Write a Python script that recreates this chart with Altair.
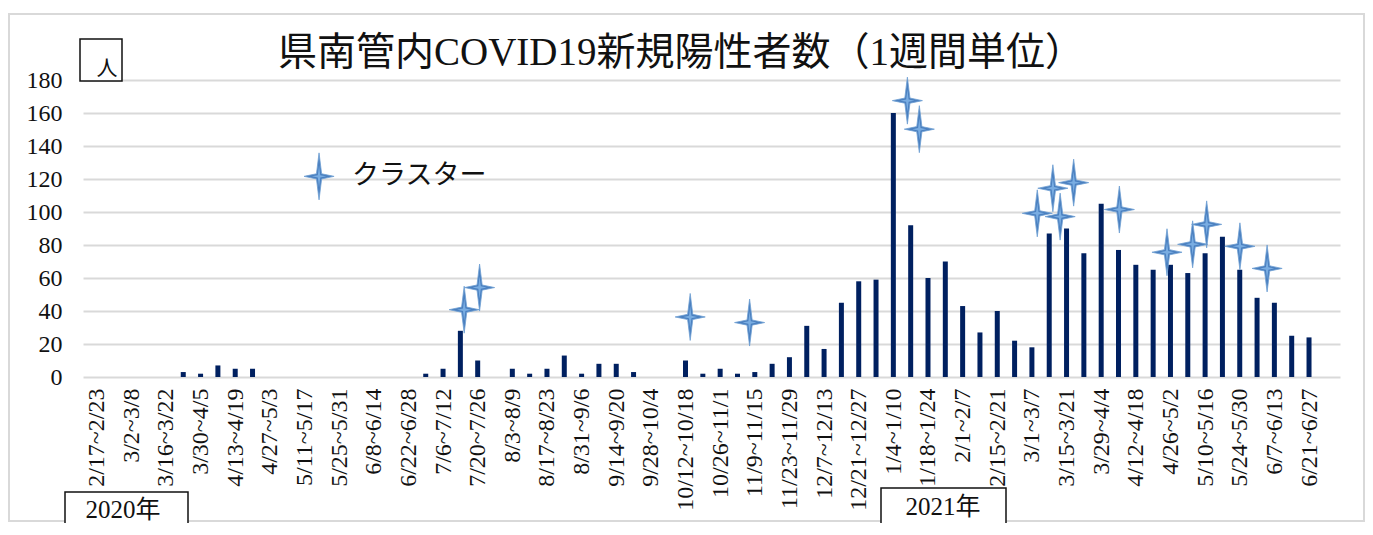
import altair as alt
import pandas as pd

# ---- data -------------------------------------------------------------
week_labels = [
    "2/17~2/23", "2/24~3/1", "3/2~3/8", "3/9~3/15", "3/16~3/22", "3/23~3/29",
    "3/30~4/5", "4/6~4/12", "4/13~4/19", "4/20~4/26", "4/27~5/3", "5/4~5/10",
    "5/11~5/17", "5/18~5/24", "5/25~5/31", "6/1~6/7", "6/8~6/14", "6/15~6/21",
    "6/22~6/28", "6/29~7/5", "7/6~7/12", "7/13~7/19", "7/20~7/26", "7/27~8/2",
    "8/3~8/9", "8/10~8/16", "8/17~8/23", "8/24~8/30", "8/31~9/6", "9/7~9/13",
    "9/14~9/20", "9/21~9/27", "9/28~10/4", "10/5~10/11", "10/12~10/18", "10/19~10/25",
    "10/26~11/1", "11/2~11/8", "11/9~11/15", "11/16~11/22", "11/23~11/29", "11/30~12/6",
    "12/7~12/13", "12/14~12/20", "12/21~12/27", "12/28~1/3", "1/4~1/10", "1/11~1/17",
    "1/18~1/24", "1/25~1/31", "2/1~2/7", "2/8~2/14", "2/15~2/21", "2/22~2/28",
    "3/1~3/7", "3/8~3/14", "3/15~3/21", "3/22~3/28", "3/29~4/4", "4/5~4/11",
    "4/12~4/18", "4/19~4/25", "4/26~5/2", "5/3~5/9", "5/10~5/16", "5/17~5/23",
    "5/24~5/30", "5/31~6/6", "6/7~6/13", "6/14~6/20", "6/21~6/27",
]
cases = [
    0, 0, 0, 0, 0, 3, 2, 7, 5, 5,
    0, 0, 0, 0, 0, 0, 0, 0, 0, 2,
    5, 28, 10, 0, 5, 2, 5, 13, 2, 8,
    8, 3, 0, 0, 10, 2, 5, 2, 3, 8,
    12, 31, 17, 45, 58, 59, 160, 92, 60, 70,
    43, 27, 40, 22, 18, 87, 90, 75, 105, 77,
    68, 65, 68, 63, 75, 85, 65, 48, 45, 25,
    24,
]
# cluster markers (position in week units, height in persons)
star_x = [21.22, 22.11, 34.27, 37.70, 46.81, 47.50, 54.31, 55.21, 55.63, 56.41,
          59.05, 61.80, 63.28, 64.09, 66.01, 67.58]
star_y = [40.8, 54.2, 36.4, 33.0, 167.5, 150.2, 99.2, 114.4, 97.2, 117.8,
          101.5, 75.6, 80.4, 92.5, 79.2, 65.8]
legend_star_x = [12.84]
legend_star_y = [121.6]
legend_text_x = [14.75]
legend_text_y = [121.6]
legend_label = ["クラスター"]
tick_weeks = list(range(0, 71, 2))
y_ticks = list(range(0, 181, 20))

title_text = "県南管内COVID19新規陽性者数（1週間単位）"
unit_text = "人"
year_texts = ["2020年", "2021年"]

# ---- chart ------------------------------------------------------------
W, H = 1257, 297
SERIF = "Liberation Serif, Noto Sans CJK JP"
LAB = "Liberation Serif"
GRID = "#d9d9d9"
LFS = 24

bars_df = pd.DataFrame({"week": list(range(len(cases))), "cases": cases,
                        "label": week_labels})
stars_df = pd.DataFrame({"week": star_x, "cases": star_y})
leg_star_df = pd.DataFrame({"week": legend_star_x, "cases": legend_star_y})
leg_text_df = pd.DataFrame({"week": legend_text_x, "cases": legend_text_y,
                            "t": legend_label})
one = pd.DataFrame({"a": [0]})

label_expr = "[" + ",".join("'" + s + "'" for s in week_labels) + "][datum.value]"

xscale = alt.Scale(domain=[-0.5, 71.5], nice=False, zero=False)
yscale = alt.Scale(domain=[0, 180], nice=False)

xaxis = alt.Axis(values=tick_weeks, labelExpr=label_expr, labelAngle=270,
                 labelFont=LAB, labelFontSize=LFS, labelFontWeight="normal",
                 labelColor="#111", labelPadding=11, ticks=False, domain=False,
                 grid=False, labelOverlap=False, labelFlush=False, title=None)
yaxis = alt.Axis(values=y_ticks, labelFont=LAB, labelFontSize=LFS,
                 labelFontWeight="normal", labelColor="#111", labelPadding=21,
                 ticks=False, domain=False, grid=True, gridColor=GRID,
                 gridWidth=2, labelOverlap=False, title=None)

X = alt.X("week:Q", scale=xscale, axis=xaxis)
Y = alt.Y("cases:Q", scale=yscale, axis=yaxis)

# outer frame (outline only)
frame = alt.Chart(one).mark_rect(fillOpacity=0, stroke=GRID, strokeWidth=2).encode(
    x=alt.value(-74), x2=alt.value(1281), y=alt.value(-66), y2=alt.value(441))

bars = alt.Chart(bars_df).mark_bar(size=5, color="#002060").encode(x=X, y=Y)

STAR = "M0,-1L0.11,-0.11L0.64,0L0.11,0.11L0,1L-0.11,0.11L-0.64,0L-0.11,-0.11Z"

def star_layers(df):
    outer = alt.Chart(df).mark_point(shape=STAR, size=2209, filled=True,
                                     fill="#4a7fbf", stroke="#6f9fd3",
                                     strokeWidth=0.8, opacity=1).encode(x=X, y=Y)
    inner = alt.Chart(df).mark_point(shape=STAR, size=500, filled=True,
                                     fill="#79ade2", opacity=1).encode(x=X, y=Y)
    return [outer, inner]

stars = star_layers(stars_df)
leg_star = star_layers(leg_star_df)
leg_text = alt.Chart(leg_text_df).mark_text(
    font="Noto Sans CJK JP", fontSize=27, align="left", baseline="middle",
    color="#111").encode(x=X, y=Y, text="t:N")

title = alt.Chart(one).mark_text(font=SERIF, fontSize=39, align="center",
                                 baseline="middle", color="#111",
                                 text=title_text).encode(
    x=alt.value(598), y=alt.value(-27))

unit_box = alt.Chart(one).mark_rect(fill="white", stroke="#111", strokeWidth=1.5).encode(
    x=alt.value(-3), x2=alt.value(39), y=alt.value(-41), y2=alt.value(1))
unit_txt = alt.Chart(one).mark_text(font=SERIF, fontSize=21, align="center",
                                    baseline="middle", color="#111",
                                    text=unit_text).encode(
    x=alt.value(24), y=alt.value(-11))

y20_box = alt.Chart(one).mark_rect(fill="white", stroke="#111", strokeWidth=1.5).encode(
    x=alt.value(-18), x2=alt.value(105), y=alt.value(412), y2=alt.value(470))
y20_txt = alt.Chart(one).mark_text(font=SERIF, fontSize=25, align="center",
                                   baseline="middle", color="#111",
                                   text=year_texts[0]).encode(
    x=alt.value(40), y=alt.value(430))
y21_box = alt.Chart(one).mark_rect(fill="white", stroke="#111", strokeWidth=1.5).encode(
    x=alt.value(798), x2=alt.value(923), y=alt.value(408), y2=alt.value(452))
y21_txt = alt.Chart(one).mark_text(font=SERIF, fontSize=25, align="center",
                                   baseline="middle", color="#111",
                                   text=year_texts[1]).encode(
    x=alt.value(860), y=alt.value(427))

chart = alt.layer(
    frame, bars, *stars, *leg_star, leg_text, title, unit_box, unit_txt,
    y20_box, y20_txt, y21_box, y21_txt,
).properties(
    width=W, height=H,
    background="white",
    autosize=alt.AutoSizeParams(type="none"),
    padding={"left": 75, "top": 72, "right": 25, "bottom": 146},
).configure_view(stroke=None).configure_axis(
    labelFont=LAB, labelFontSize=LFS, labelColor="#111", labelOverlap=False,
    ticks=False, domain=False, labelFlush=False,
)

chart.save("out.html", embed_options={"renderer": "svg", "actions": False})
